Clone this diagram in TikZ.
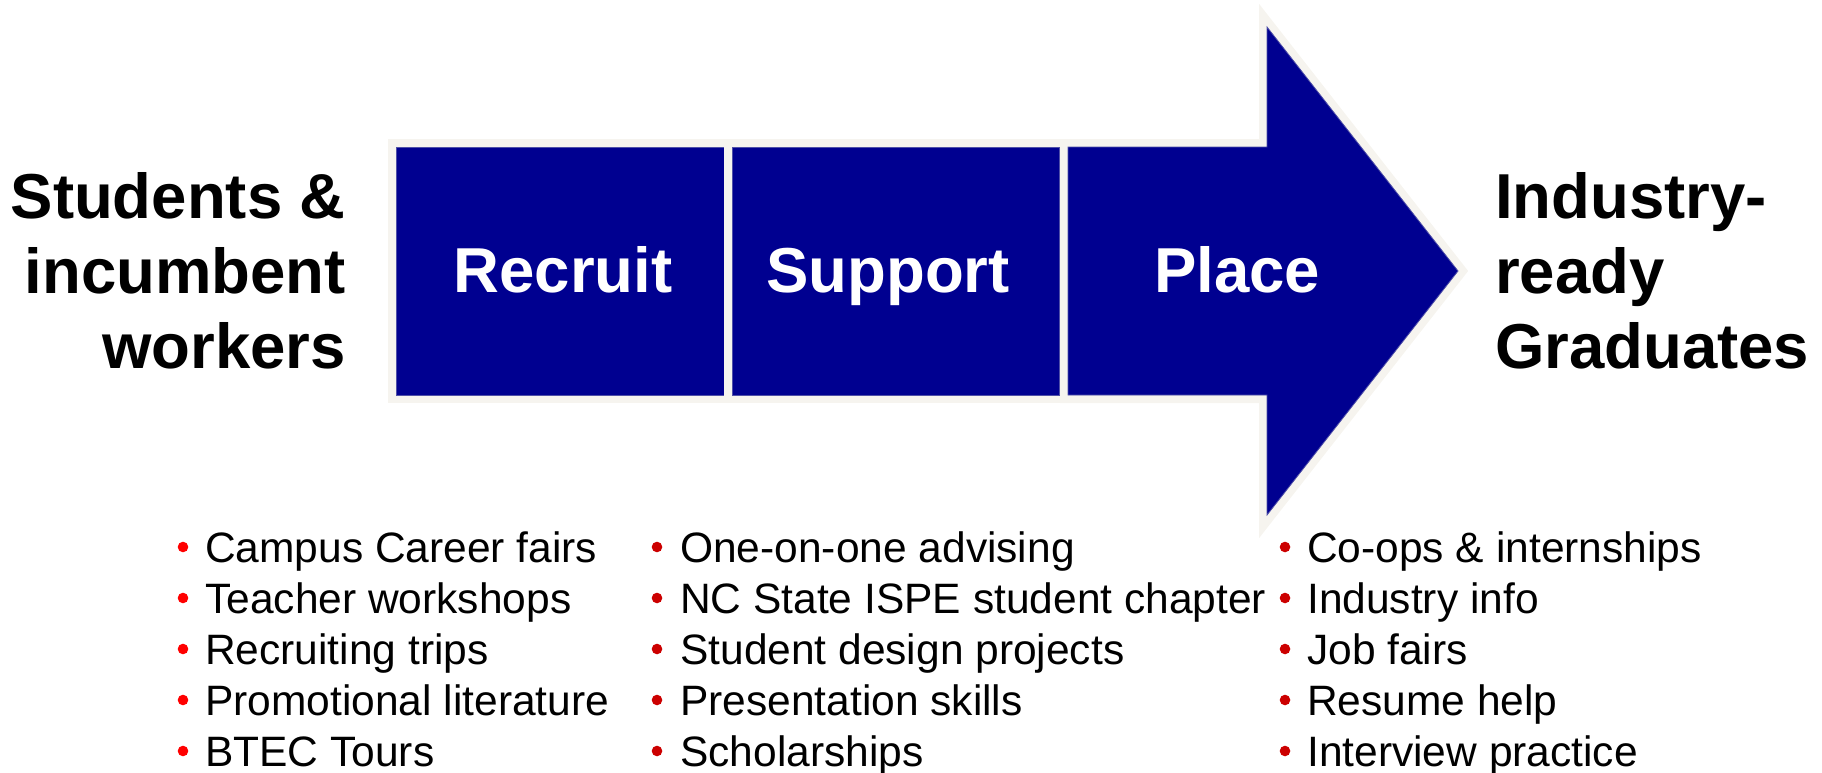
\documentclass[tikz,border=0pt]{standalone}
\usepackage{fontspec}
\setmainfont{Liberation Sans}
\definecolor{navy}{HTML}{000090}
\definecolor{rim}{HTML}{F6F4EF}
\definecolor{edgeblue}{HTML}{5050A8}
\definecolor{bulA}{HTML}{FF0000}
\definecolor{bulB}{HTML}{CC0000}
\tikzset{
  stage/.style={preaction={draw=rim, line width=16pt, line join=miter}, fill=navy, draw=edgeblue, line width=0.8pt},
  big/.style={font=\fontsize{63.5}{75}\selectfont\bfseries, inner sep=0pt},
  stagelabel/.style={big, text=white, anchor=base},
  item/.style={font=\fontsize{42.5}{51}\selectfont, inner sep=0pt, anchor=base west},
}
\begin{document}
\begin{tikzpicture}[x=1pt,y=-1pt]
\useasboundingbox (0,0) rectangle (1822,773);
% stages
\path[stage] (396,147) rectangle (724,395);
\path[stage] (732,147) rectangle (1059,395);
\path[stage] (1068,147) -- (1267,147) -- (1267,27) -- (1458,271) -- (1267,515) -- (1267,395) -- (1068,395) -- cycle;
\node[stagelabel] (recruit) at (563,292) {Recruit};
\node[stagelabel] (support) at (888,292) {Support};
\node[stagelabel] (place) at (1237,292) {Place};
% side texts
\node[big, anchor=base east] (s1) at (346,218) {Students \&};
\node[big, anchor=base east] (s2) at (346,293) {incumbent};
\node[big, anchor=base east] (s3) at (346,368) {workers};
\node[big, anchor=base west] (g1) at (1495,218) {Industry-};
\node[big, anchor=base west] (g2) at (1495,293) {ready};
\node[big, anchor=base west] (g3) at (1495,368) {Graduates};
% lists
\foreach \t [count=\i from 0] in {Campus Career fairs, Teacher workshops, Recruiting trips, Promotional literature, BTEC Tours}{
  \node[item] (ra\i) at (205,{562+51*\i}) {\t};
  \fill[bulA] (183,{547+51*\i}) circle (5.3pt);
}
\foreach \t [count=\i from 0] in {One-on-one advising, NC State ISPE student chapter, Student design projects, Presentation skills, Scholarships}{
  \node[item] (sb\i) at (680,{562+51*\i}) {\t};
  \fill[bulB] (657,{547+51*\i}) circle (5.3pt);
}
\foreach \t [count=\i from 0] in {Co-ops \& internships, Industry info, Job fairs, Resume help, Interview practice}{
  \node[item] (pc\i) at (1307,{562+51*\i}) {\t};
  \fill[bulB] (1285,{547+51*\i}) circle (5.3pt);
}
\end{tikzpicture}
\end{document}
